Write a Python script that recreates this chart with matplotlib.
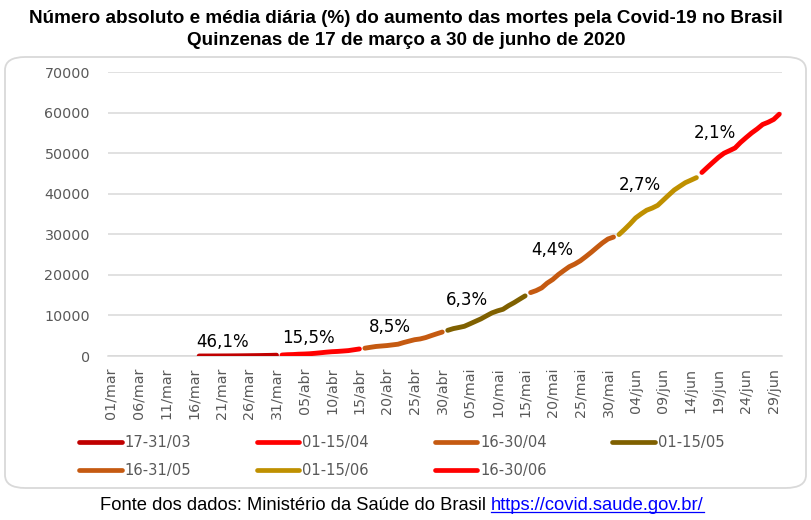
import datetime as dt
import matplotlib
matplotlib.use("Agg")
import matplotlib.pyplot as plt
from matplotlib.patches import FancyBboxPatch
from matplotlib.lines import Line2D

# ---------------- data ----------------
title_lines = ["Número absoluto e média diária (%) do aumento das mortes pela Covid-19 no Brasil",
               "Quinzenas de 17 de março a 30 de junho de 2020"]

# cumulative deaths, 17/03 .. 30/06
deaths = [1, 4, 7, 11, 18, 25, 34, 46, 59, 77, 92, 111, 136, 159, 201,           # 17-31/03
          240, 324, 359, 445, 486, 553, 667, 800, 941, 1056, 1124, 1223, 1328, 1532, 1736,  # 01-15/04
          1924, 2141, 2347, 2462, 2575, 2741, 2906, 3313, 3670, 4016, 4205, 4543, 5017, 5466, 5901,  # 16-30/04
          6329, 6750, 7025, 7321, 7921, 8536, 9146, 9897, 10627, 11123, 11519, 12400, 13149, 13993, 14817,  # 01-15/05
          15633, 16118, 16792, 17971, 18859, 20047, 21048, 22013, 22666, 23473, 24512, 25598, 26754, 27878, 28834, 29314,  # 16-31/05
          29937, 31199, 32548, 34021, 35026, 35930, 36455, 37134, 38406, 39680, 40919, 41828, 42720, 43332, 43959,  # 01-15/06
          45241, 46510, 47748, 48954, 49976, 50617, 51271, 52645, 53830, 54971, 55961, 57070, 57622, 58314, 59594]  # 16-30/06

segment_names = ["17-31/03", "01-15/04", "16-30/04", "01-15/05", "16-31/05", "01-15/06", "16-30/06"]
segment_lengths = [15, 15, 15, 15, 16, 15, 15]
segment_pct = ["46,1%", "15,5%", "8,5%", "6,3%", "4,4%", "2,7%", "2,1%"]

first_day = dt.date(2020, 3, 1)
last_day = dt.date(2020, 6, 30)
data_start = dt.date(2020, 3, 17)
month_abbr = {3: "mar", 4: "abr", 5: "mai", 6: "jun"}

y_ticks = [0, 10000, 20000, 30000, 40000, 50000, 60000, 70000]
source_text = "Fonte dos dados: Ministério da Saúde do Brasil "
source_link = "https://covid.saude.gov.br/"

# ---------------- styles / positions ----------------
seg_colors = ["#C00000", "#FF0000", "#C55A11", "#7F6000", "#C55A11", "#BF9000", "#FF0000"]
# label anchor (day index, value) for each percentage text
label_pos = [(20.3, 3450), (35.7, 4440), (50.5, 7150), (64.5, 13800),
             (80.0, 26130), (95.8, 42150), (109.4, 54970)]

W, H = 812, 520
fig = plt.figure(figsize=(W / 100, H / 100), dpi=100)
fig.patch.set_facecolor("white")

grey = "#595959"
grid_c = "#D9D9D9"

# rounded chart frame
frame = FancyBboxPatch((5 / W, (H - 488) / H), (806 - 5) / W, (488 - 57) / H,
                       boxstyle="round,pad=0,rounding_size=0.025",
                       transform=fig.transFigure, facecolor="none",
                       edgecolor=grid_c, linewidth=1.3, zorder=-1)
fig.patches.append(frame)

# title
tfam = ["Liberation Sans", "DejaVu Sans"]
fig.text(0.5, 1 - 18.5 / H, title_lines[0], ha="center", va="center",
         fontsize=13.6, fontweight="bold", family=tfam)
fig.text(0.5, 1 - 41 / H, title_lines[1], ha="center", va="center",
         fontsize=13.6, fontweight="bold", family=tfam)

ax = fig.add_axes([108 / W, 1 - 356 / H, (782 - 108) / W, (356 - 72) / H])
ax.set_facecolor("none")

n_days = (last_day - first_day).days + 1
offset = (data_start - first_day).days

start = 0
for name, ln, col in zip(segment_names, segment_lengths, seg_colors):
    xs = list(range(offset + start, offset + start + ln))
    ys = deaths[start:start + ln]
    ax.plot(xs, ys, color=col, lw=3.5, solid_capstyle="round",
            solid_joinstyle="round", label=name, zorder=3)
    start += ln

for txt, (px, py) in zip(segment_pct, label_pos):
    ax.text(px, py, txt, ha="center", va="center", fontsize=12, color="black", zorder=4)

ax.set_xlim(-0.5, n_days - 0.5)
ax.set_ylim(0, 70000)
ax.set_yticks(y_ticks)
ax.set_yticklabels([str(v) for v in y_ticks])

tick_idx = list(range(0, n_days, 5))
tick_labels = []
for i in tick_idx:
    d = first_day + dt.timedelta(days=i)
    tick_labels.append(f"{d.day:02d}/{month_abbr[d.month]}")
ax.set_xticks(tick_idx)
ax.set_xticklabels(tick_labels, rotation=90)

ax.tick_params(axis="both", length=0, colors=grey, labelsize=10.3)
ax.tick_params(axis="x", pad=8.5)
ax.tick_params(axis="y", pad=13)
ax.yaxis.grid(True, color=grid_c, lw=1.1)
ax.set_axisbelow(True)
for s in ["top", "right", "left"]:
    ax.spines[s].set_visible(False)
ax.spines["bottom"].set_color(grid_c)
ax.spines["bottom"].set_linewidth(1.1)

# legend (row-major order in 4 columns)
order = [0, 4, 1, 5, 2, 6, 3]
leg_handles = [Line2D([0], [0], color=seg_colors[i], lw=3.4, solid_capstyle="round") for i in order]
leg_labels = [segment_names[i] for i in order]
leg = fig.legend(leg_handles, leg_labels, ncol=4, loc="upper left",
                 bbox_to_anchor=(79 / W, 1 - 435 / H), frameon=False,
                 fontsize=10.6, handlelength=2.9, handletextpad=0.2,
                 columnspacing=4.45, labelspacing=0.9, borderaxespad=0, borderpad=0)
for t in leg.get_texts():
    t.set_color(grey)

# footer with hyperlink
fig.canvas.draw()
r = fig.canvas.get_renderer()
src_y = 1 - 505 / H
t1 = fig.text(100 / W, src_y, source_text, ha="left", va="center", fontsize=13.2,
              family=tfam, color="black")
bb = t1.get_window_extent(renderer=r)
t2 = fig.text(bb.x1 / W, src_y, source_link, ha="left", va="center", fontsize=13.2,
              family=tfam, color="#0000FF", url=source_link)
bb2 = t2.get_window_extent(renderer=r)
fig.add_artist(Line2D([bb2.x0 / W, bb2.x1 / W], [(bb2.y0 + 2) / H] * 2,
                      transform=fig.transFigure, color="#0000FF", lw=0.9))

fig.savefig("out.png", dpi=100, facecolor="white")
